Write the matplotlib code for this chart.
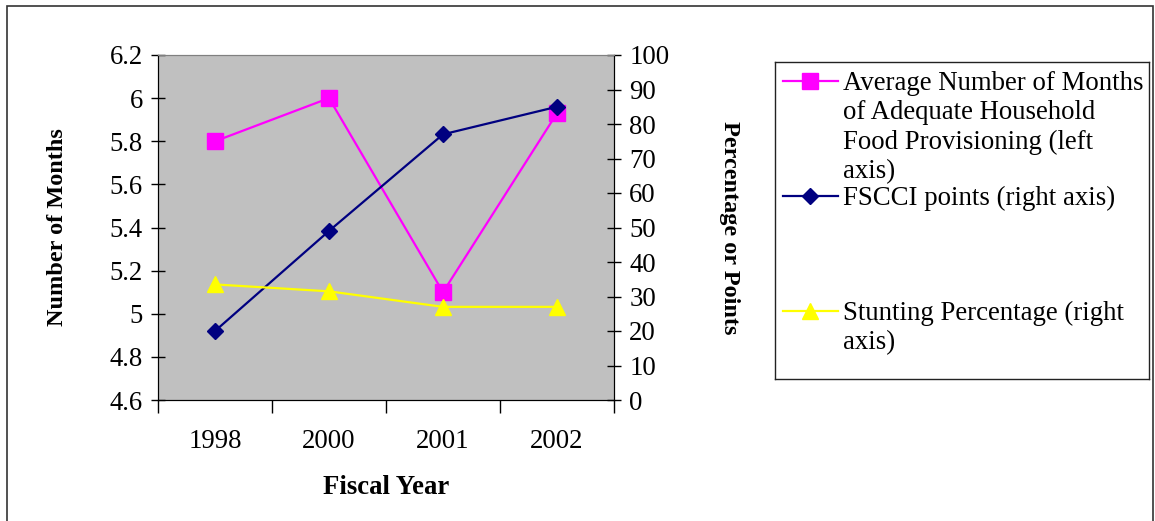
import matplotlib
matplotlib.use("Agg")
import matplotlib.pyplot as plt
from matplotlib.patches import Rectangle

years = ["1998", "2000", "2001", "2002"]
months = [5.8, 6.0, 5.1, 5.93]
fscci = [20, 49, 77, 85]
stunting = [33.5, 31.5, 27, 27]

labels = [
    "Average Number of Months\nof Adequate Household\nFood Provisioning (left\naxis)",
    "FSCCI points (right axis)",
    "Stunting Percentage (right\naxis)",
]

plt.rcParams["font.family"] = ["Liberation Serif", "DejaVu Serif"]
FS = 19.3
FS_V = 17.5

W, H = 1155, 521
fig = plt.figure(figsize=(W / 100, H / 100), dpi=100)
fig.patches.append(Rectangle((7 / W, -0.1), 1146 / W, 1.1 - 6 / H, transform=fig.transFigure,
                             fill=False, edgecolor="#333333", linewidth=1.2))

ax = fig.add_axes([158 / W, 1 - 400 / H, 456 / W, 345 / H])
ax.set_facecolor("#C0C0C0")
x = list(range(len(years)))

l1, = ax.plot(x, months, color="#FF00FF", marker="s", markersize=11, linewidth=1.6)
ax.set_xlim(-0.5, len(years) - 0.5)
ax.set_ylim(4.6, 6.2)
ax.set_yticks([4.6, 4.8, 5.0, 5.2, 5.4, 5.6, 5.8, 6.0, 6.2])
ax.set_yticklabels(["4.6", "4.8", "5", "5.2", "5.4", "5.6", "5.8", "6", "6.2"])
ax.set_xticks(x)
ax.set_xticklabels(years)
ax.set_xticks([i - 0.5 for i in range(len(years) + 1)], minor=True)
ax.tick_params(axis="x", which="major", length=0, pad=21, labelsize=FS)
ax.tick_params(axis="x", which="minor", length=9, direction="out", width=1)
ax.tick_params(axis="y", length=10, direction="inout", width=1, labelsize=FS, pad=6)
ax.set_ylabel("Number of Months", fontsize=FS_V, fontweight="bold", labelpad=30)
ax.set_xlabel("Fiscal Year", fontsize=FS, fontweight="bold", labelpad=15)
ax.spines["top"].set_color("#808080")

ax2 = ax.twinx()
l2, = ax2.plot(x, fscci, color="#000080", marker="D", markersize=8, linewidth=1.6)
l3, = ax2.plot(x, stunting, color="#FFFF00", marker="^", markersize=11, linewidth=1.6)
ax2.set_ylim(0, 100)
ax2.set_yticks(range(0, 101, 10))
ax2.tick_params(axis="y", length=10, direction="inout", width=1, labelsize=FS, pad=6)
ax2.set_ylabel("Percentage or Points", fontsize=FS_V, fontweight="bold", rotation=-90,
               labelpad=51)
ax2.spines["top"].set_color("#808080")

# legend box drawn in its own pixel-coordinate axes
lax = fig.add_axes([775 / W, 1 - 379 / H, 374 / W, 317 / H])
lax.set_xlim(0, 374)
lax.set_ylim(317, 0)
lax.set_xticks([])
lax.set_yticks([])
for s in lax.spines.values():
    s.set_linewidth(1)
    s.set_color("#222222")
entry_y = [19, 134, 249]
for line, lab, yy in zip([l1, l2, l3], labels, entry_y):
    lax.plot([8, 63], [yy, yy], color=line.get_color(), linewidth=line.get_linewidth())
    lax.plot([35], [yy], color=line.get_color(), marker=line.get_marker(),
             markersize=line.get_markersize())
    lax.text(68, yy - 10, lab, fontsize=FS, va="top", ha="left", linespacing=1.22)

fig.savefig("out.png", dpi=100)
